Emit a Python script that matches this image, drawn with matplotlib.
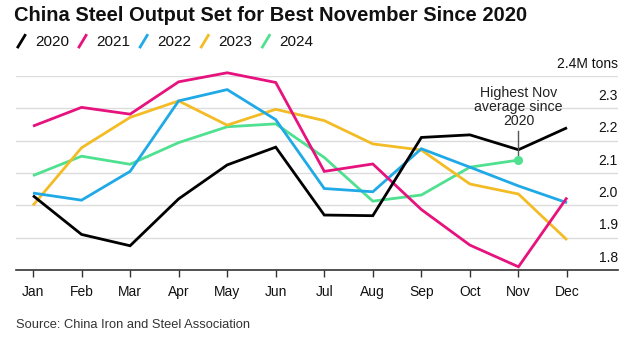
"""
Monthly average daily crude steel output in China, 2020-2024.
"""
import matplotlib
matplotlib.use("Agg")
import matplotlib.pyplot as plt
from matplotlib.lines import Line2D

plt.rcParams["font.family"] = ["Liberation Sans", "DejaVu Sans"]

months = ["Jan", "Feb", "Mar", "Apr", "May", "Jun",
          "Jul", "Aug", "Sep", "Oct", "Nov", "Dec"]

out_2020 = [2.03, 1.91, 1.875, 2.02, 2.125, 2.18, 1.97, 1.968, 2.21, 2.218, 2.172, 2.24]
out_2021 = [2.245, 2.303, 2.282, 2.382, 2.41, 2.38, 2.105, 2.128, 1.987, 1.877, 1.81, 2.024]
out_2022 = [2.038, 2.016, 2.105, 2.323, 2.358, 2.265, 2.052, 2.042, 2.175, 2.118, 2.06, 2.008]
out_2023 = [2.0, 2.178, 2.272, 2.323, 2.248, 2.297, 2.262, 2.19, 2.171, 2.066, 2.035, 1.893]
out_2024 = [2.092, 2.152, 2.127, 2.194, 2.243, 2.252, 2.148, 2.013, 2.032, 2.118, 2.14]

series = [
    ("2020", out_2020, "#000000"),
    ("2021", out_2021, "#e6127d"),
    ("2022", out_2022, "#1fa9e6"),
    ("2023", out_2023, "#f3bc25"),
    ("2024", out_2024, "#4fe090"),
]

y_ticks = [1.8, 1.9, 2.0, 2.1, 2.2, 2.3, 2.4]
y_labels = ["1.8", "1.9", "2.0", "2.1", "2.2", "2.3", "2.4M tons"]

fig = plt.figure(figsize=(6.4, 3.43), dpi=100)
ax = fig.add_axes([0.025, 0.2128, 0.9406, 0.5656])

x = list(range(len(months)))

# later years underneath, 2020 on top
for i, (name, vals, color) in enumerate(reversed(series)):
    ax.plot(x[:len(vals)], vals, color=color, lw=2.0, zorder=3 + i,
            solid_joinstyle="miter", solid_capstyle="butt", clip_on=False)

ax.set_xlim(-0.35, 12.05)
ax.set_ylim(1.8, 2.4)

for v in y_ticks[1:]:
    ax.axhline(v, color="#dcdcdc", lw=1, zorder=1)
for v, lab in zip(y_ticks, y_labels):
    ax.text(1.0, v + 0.017, lab, transform=ax.get_yaxis_transform(),
            ha="right", va="bottom", fontsize=10, color="#111111")

ax.set_yticks([])
ax.set_xticks(x)
ax.set_xticklabels(months, fontsize=10, color="#111111")
ax.tick_params(axis="x", length=5, width=1, color="#333333", pad=6)
for side in ["top", "right", "left"]:
    ax.spines[side].set_visible(False)
ax.spines["bottom"].set_color("#333333")
ax.spines["bottom"].set_linewidth(1.2)

# November 2024 callout
nov = 10
ax.plot(nov, out_2024[nov], "o", color="#4fe090", ms=5.5, zorder=10)
ax.plot([nov, nov], [out_2024[nov] + 0.01, 2.23], color="#555555", lw=1, zorder=9)
ax.text(nov, 2.24, "Highest Nov\naverage since\n2020", ha="center", va="bottom",
        fontsize=10.2, color="#222222", linespacing=1.0, zorder=11)

fig.text(0.022, 0.955, "China Steel Output Set for Best November Since 2020",
         fontsize=14.5, fontweight="bold", ha="left", va="center", color="#111111")

# legend row with slanted swatches
lx = 0.028
for name, vals, color in series:
    fig.add_artist(Line2D([lx, lx + 0.011], [0.863, 0.897], color=color, lw=2,
                          transform=fig.transFigure))
    fig.text(lx + 0.027, 0.878, name, fontsize=11, ha="left", va="center",
             color="#111111")
    lx += 0.0955

fig.text(0.025, 0.052, "Source: China Iron and Steel Association",
         fontsize=9.3, ha="left", va="center", color="#333333")

fig.savefig("out.png", dpi=100, facecolor="white")
plt.close(fig)
